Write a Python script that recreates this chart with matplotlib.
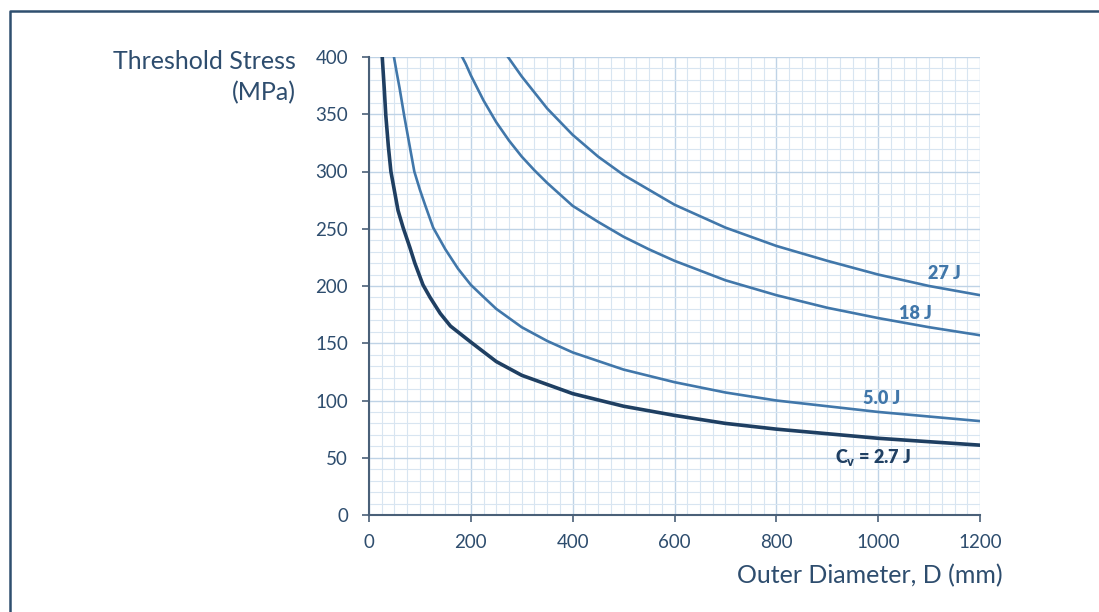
import matplotlib.pyplot as plt
from matplotlib.lines import Line2D
from matplotlib.ticker import MultipleLocator

plt.rcParams['font.family'] = ['Lato', 'DejaVu Sans']

# values
d_27 = [273, 300, 325, 350, 400, 450, 500, 550, 600, 700, 800, 900, 1000, 1100, 1200]
s_27 = [400, 383, 369, 355, 332, 313, 297, 284, 271, 251, 235, 222, 210, 200, 192]
d_18 = [183, 190, 200, 225, 250, 275, 300, 325, 350, 400, 450, 500, 550, 600, 700, 800, 900, 1000, 1100, 1200]
s_18 = [400, 394, 384, 362, 343, 327, 313, 301, 290, 270, 256, 243, 232, 222, 205, 192, 181, 172, 164, 157]
d_5 = [49, 55, 60, 69, 80, 89, 100, 110, 126, 150, 175, 200, 226, 250, 300, 350, 400,
       500, 600, 700, 800, 900, 1000, 1100, 1200]
s_5 = [400, 385, 373, 349, 322, 300, 284, 271, 251, 232, 215, 201, 190, 180, 164, 152, 142,
       127, 116, 107, 100, 95, 90, 86, 82]
d_27j = [26, 30, 33, 38, 43, 50, 57, 67, 80, 90, 106, 120, 140, 160, 200, 250, 300,
         400, 500, 600, 700, 800, 900, 1000, 1100, 1200]
s_27j = [400, 372, 349, 322, 300, 283, 266, 251, 234, 220, 201, 190, 176, 165, 151, 134, 122,
         106, 95, 87, 80, 75, 71, 67, 64, 61]

labels = ['27 J', '18 J', '5.0 J', r'C$_\mathregular{v}$ = 2.7 J']
label_x = [1131, 1073, 1006, 990]
label_y = [211, 176, 102, 50]

text_col = '#2E4D6E'
line_col = '#4177AA'
dark_col = '#1F3F62'

fig = plt.figure(figsize=(10.99, 6.12), dpi=100)
ax = fig.add_axes([369 / 1099, 1 - 515 / 612, 611 / 1099, 458 / 612])

ax.plot(d_27, s_27, color=line_col, lw=1.9)
ax.plot(d_18, s_18, color=line_col, lw=1.9)
ax.plot(d_5, s_5, color=line_col, lw=1.9)
ax.plot(d_27j, s_27j, color=dark_col, lw=2.6)

for t, x, y in zip(labels, label_x, label_y):
    ax.text(x, y, t, color=line_col if t != labels[3] else dark_col,
            fontsize=13, fontweight='heavy', ha='center', va='center')

ax.set_xlim(0, 1200)
ax.set_ylim(0, 400)
ax.xaxis.set_major_locator(MultipleLocator(200))
ax.yaxis.set_major_locator(MultipleLocator(50))
ax.xaxis.set_minor_locator(MultipleLocator(25))
ax.yaxis.set_minor_locator(MultipleLocator(10))
ax.grid(which='major', color='#BFD3E6', lw=1)
ax.grid(which='minor', color='#D8E5F1', lw=0.8)
ax.set_axisbelow(True)

for s in ['top', 'right']:
    ax.spines[s].set_visible(False)
for s in ['left', 'bottom']:
    ax.spines[s].set_color('#4A6078')
    ax.spines[s].set_linewidth(1.5)
ax.tick_params(which='major', colors='#4A6078', labelcolor=text_col, labelsize=13.5, length=5, width=1.2)
ax.tick_params(which='minor', length=0)
ax.tick_params(axis='x', pad=9)
ax.tick_params(axis='y', pad=10)

fig.text(296 / 1099, 1 - 77 / 612, 'Threshold Stress\n(MPa)', color=text_col, fontsize=18,
         ha='right', va='center', linespacing=1.45)
fig.text(1003 / 1099, 1 - 576 / 612, 'Outer Diameter, D (mm)', color=text_col, fontsize=18,
         ha='right', va='center')

# outer frame
fig.add_artist(Line2D([10 / 1099, 10 / 1099, 1.01], [-0.01, 1 - 11 / 612, 1 - 11 / 612],
                      transform=fig.transFigure, color='#2F4F6F', lw=1.8))

fig.savefig('out.png', dpi=100)
